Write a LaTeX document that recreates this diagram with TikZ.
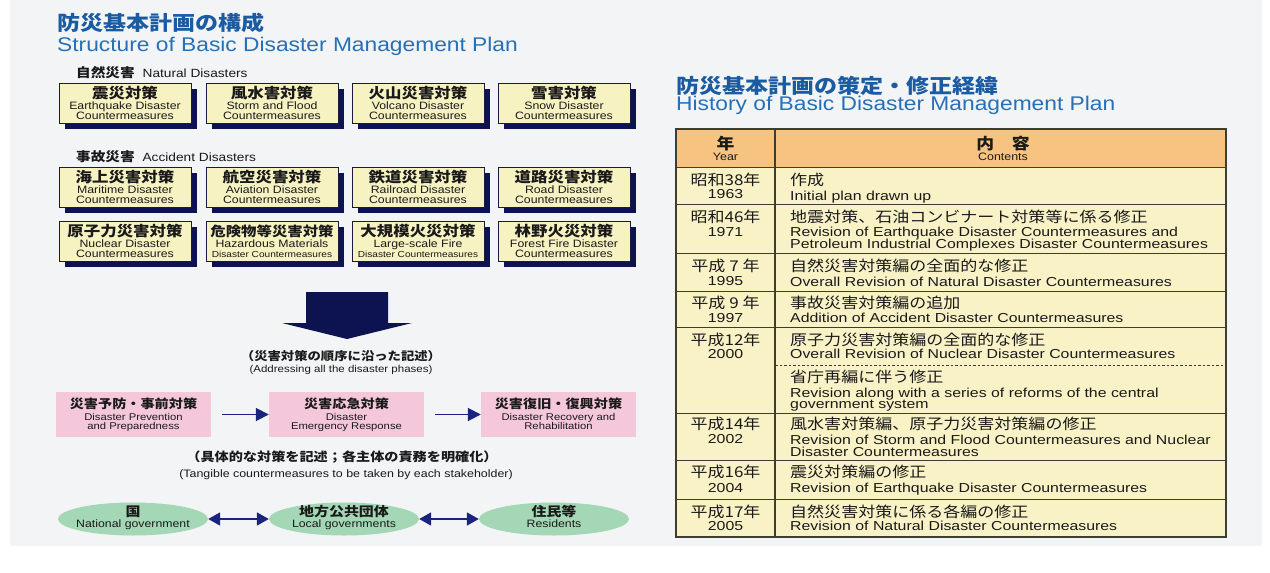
\documentclass[tikz,border=0pt]{standalone}
\usepackage{fontspec}
\usetikzlibrary{arrows.meta,shapes.geometric}
\newfontfamily\en[FakeStretch=1.15]{Liberation Sans}
\newfontfamily\ent[FakeStretch=1.22]{Liberation Sans}
\newfontfamily\jp[FakeStretch=1.15]{Noto Sans CJK JP}
\definecolor{tjp}{HTML}{1A5BA2}
\definecolor{ten}{HTML}{2670B8}
\definecolor{navy}{HTML}{0C1350}
\definecolor{boxfill}{HTML}{F7F2C2}
\definecolor{boxline}{HTML}{1A1A3C}
\definecolor{pinkfill}{HTML}{F4C8DA}
\definecolor{greenfill}{HTML}{A4D7B5}
\definecolor{arrowblue}{HTML}{1A237E}
\definecolor{hdrfill}{HTML}{F6C480}
\definecolor{rowfill}{HTML}{F8F2C6}
\definecolor{tabline}{HTML}{3E3E30}
\definecolor{txt}{HTML}{1A1A1A}
\definecolor{panel}{HTML}{F3F4F6}
\tikzset{
  disbox/.style={draw=boxline,line width=1.2pt,fill=boxfill,minimum width=132pt,minimum height=40pt,inner sep=0pt,anchor=north west},
  jbox/.style={font=\jp\bfseries\fontsize{14.3}{16}\selectfont,inner sep=0pt,anchor=base,text=txt},
  jboxs/.style={font=\jp\bfseries\fontsize{13.4}{16}\selectfont,inner sep=0pt,anchor=base,text=txt},
  ebox/.style={font=\en\fontsize{10.7}{12}\selectfont,inner sep=0pt,anchor=base,text=txt},
  eboxs/.style={font=\en\fontsize{8.8}{10}\selectfont,inner sep=0pt,anchor=base,text=txt},
  pinkbox/.style={fill=pinkfill,minimum width=155pt,minimum height=45pt,inner sep=0pt},
  pj/.style={font=\jp\bfseries\fontsize{12.3}{14}\selectfont,inner sep=0pt,anchor=base,text=txt},
  pe/.style={font=\en\fontsize{9.8}{11}\selectfont,inner sep=0pt,anchor=base,text=txt},
  ell/.style={ellipse,fill=greenfill,minimum width=150pt,minimum height=33pt,inner sep=0pt},
  gj/.style={font=\jp\bfseries\fontsize{13}{15}\selectfont,inner sep=0pt,anchor=base,text=txt},
  ge/.style={font=\en\fontsize{10.7}{12}\selectfont,inner sep=0pt,anchor=base,text=txt},
  flowarrow/.style={draw=arrowblue,line width=1.8pt,-{Triangle[length=13pt,width=13pt]},shorten <=11pt},
  dblarrow/.style={draw=arrowblue,line width=1.8pt,{Triangle[length=12pt,width=13pt]}-{Triangle[length=12pt,width=13pt]}},
  capj/.style={font=\jp\bfseries\fontsize{11.6}{13}\selectfont,inner sep=0pt,anchor=base,text=txt},
  cape/.style={font=\en\fontsize{10}{12}\selectfont,inner sep=0pt,anchor=base,text=txt},
  jt/.style={font=\jp\fontsize{14.8}{16}\selectfont,inner sep=0pt,text=txt},
  et/.style={font=\ent\fontsize{13}{15}\selectfont,inner sep=0pt,text=txt},
  hj/.style={font=\jp\bfseries\fontsize{15.5}{17}\selectfont,inner sep=0pt,anchor=base,text=txt},
  he/.style={font=\en\fontsize{10.8}{12}\selectfont,inner sep=0pt,anchor=base,text=txt},
  tline/.style={draw=tabline,line width=1.3pt},
  titj/.style={font=\jp\bfseries\fontsize{20}{22}\selectfont,inner sep=0pt,anchor=base west,text=tjp},
  tite/.style={font=\en\fontsize{19.8}{22}\selectfont,inner sep=0pt,anchor=base west,text=ten}
}
\begin{document}
\begin{tikzpicture}[x=1pt,y=-1pt]
\useasboundingbox (0,0) rectangle (1270,573);
\fill[white] (0,0) rectangle (1270,573);
\fill[panel] (10,0) rectangle (1262,546);

% titles
\node[titj] (t1j) at (57,30) {防災基本計画の構成};
\node[tite] (t1e) at (57,51) {Structure of Basic Disaster Management Plan};
\node[titj] (t2j) at (676,93) {防災基本計画の策定・修正経緯};
\node[tite] (t2e) at (676,110) {History of Basic Disaster Management Plan};

% group labels
\node[anchor=base west,inner sep=0pt,text=txt] (natlab) at (76,77)
  {{\jp\bfseries\fontsize{12.7}{14}\selectfont 自然災害}\hspace{8pt}{\en\fontsize{11.9}{14}\selectfont Natural Disasters}};
\node[anchor=base west,inner sep=0pt,text=txt] (acclab) at (76,161)
  {{\jp\bfseries\fontsize{12.7}{14}\selectfont 事故災害}\hspace{8pt}{\en\fontsize{11.9}{14}\selectfont Accident Disasters}};

% disaster boxes
\foreach \px/\py/\tj/\ta/\tb/\nm/\sj/\se in {
  59/83/震災対策/Earthquake Disaster/Countermeasures/eq/jbox/ebox,
  206/83/風水害対策/Storm and Flood/Countermeasures/sf/jbox/ebox,
  352/83/火山災害対策/Volcano Disaster/Countermeasures/vo/jbox/ebox,
  498/83/雪害対策/Snow Disaster/Countermeasures/sn/jbox/ebox,
  59/167/海上災害対策/Maritime Disaster/Countermeasures/ma/jbox/ebox,
  206/167/航空災害対策/Aviation Disaster/Countermeasures/av/jbox/ebox,
  352/167/鉄道災害対策/Railroad Disaster/Countermeasures/ra/jbox/ebox,
  498/167/道路災害対策/Road Disaster/Countermeasures/ro/jbox/ebox,
  59/221/原子力災害対策/Nuclear Disaster/Countermeasures/nu/jbox/ebox,
  206/221/危険物等災害対策/Hazardous Materials/Disaster Countermeasures/hz/jboxs/eboxs,
  352/221/大規模火災対策/Large-scale Fire/Disaster Countermeasures/lf/jbox/eboxs,
  498/221/林野火災対策/Forest Fire Disaster/Countermeasures/ff/jbox/ebox}
{
  \fill[navy] (\px+6,\py+6) rectangle ++(132,40);
  \node[disbox] (\nm) at (\px,\py) {};
  \node[\sj] (\nm-j) at (\px+66,\py+15.6) {\tj};
  \node[ebox] (\nm-a) at (\px+66,\py+26.4) {\ta};
  \node[\se] (\nm-b) at (\px+66,\py+36.8) {\tb};
}

% big arrow
\fill[navy] (306,292) -- (388,292) -- (388,323) -- (412,323) -- (347,339) -- (282,323) -- (306,323) -- cycle;

\node[capj] (cap1j) at (341,360.5) {（災害対策の順序に沿った記述）};
\node[cape] (cap1e) at (341,372.5) {(Addressing all the disaster phases)};

% phases
\node[pinkbox] (p1) at (133.5,414.5) {};
\node[pinkbox] (p2) at (346.5,414.5) {};
\node[pinkbox] (p3) at (558.5,414.5) {};
\node[pj] (p1j) at (133.5,408) {災害予防・事前対策};
\node[pe] (p1a) at (133.5,420.7) {Disaster Prevention};
\node[pe] (p1b) at (133.5,429) {and Preparedness};
\node[pj] (p2j) at (346.5,408) {災害応急対策};
\node[pe] (p2a) at (346.5,420.7) {Disaster};
\node[pe] (p2b) at (346.5,429) {Emergency Response};
\node[pj] (p3j) at (558.5,408) {災害復旧・復興対策};
\node[pe] (p3a) at (558.5,420.7) {Disaster Recovery and};
\node[pe] (p3b) at (558.5,429) {Rehabilitation};
\draw[flowarrow] (p1.east) -- (p2.west);
\draw[flowarrow] (p2.east) -- (p3.west);

\node[font=\jp\bfseries\fontsize{12.3}{14}\selectfont,inner sep=0pt,anchor=base,text=txt] (cap2j) at (342,461.5) {（具体的な対策を記述；各主体の責務を明確化）};
\node[font=\en\fontsize{10.8}{12}\selectfont,inner sep=0pt,anchor=base,text=txt] (cap2e) at (346,477) {(Tangible countermeasures to be taken by each stakeholder)};

% stakeholders
\node[ell] (g1) at (133,519) {};
\node[ell] (g2) at (344,519) {};
\node[ell] (g3) at (554,519) {};
\node[gj] (g1j) at (133,516.6) {国};
\node[ge] (g1e) at (133,527) {National government};
\node[gj] (g2j) at (344,516.6) {地方公共団体};
\node[ge] (g2e) at (344,527) {Local governments};
\node[gj] (g3j) at (554,516.6) {住民等};
\node[ge] (g3e) at (554,527) {Residents};
\draw[dblarrow] (g1.east) -- (g2.west);
\draw[dblarrow] (g2.east) -- (g3.west);

% table
\fill[hdrfill] (676,129.3) rectangle (1226,167.3);
\fill[rowfill] (676,167.3) rectangle (1226,536.7);
\foreach \yy in {167.3,204.3,253.3,291.7,327.7,413.3,460.7,499.3}
  \draw[tline] (676,\yy) -- (1226,\yy);
\draw[draw=tabline,line width=0.8pt,dash pattern=on 2.5pt off 2pt] (775,365) -- (1226,365);
\draw[tline] (775,129.3) -- (775,536.7);
\draw[tabline,line width=1.8pt] (676,129.3) rectangle (1226,536.7);

\node[hj] (hy) at (725.5,149.2) {年};
\node[he] (hye) at (725.5,160) {Year};
\node[hj] (hc) at (1003,149.2) {内　容};
\node[he] (hce) at (1003,160) {Contents};

\node[jt,anchor=base] (y1j) at (725.5,185.4) {昭和38年};
\node[et,anchor=base] (y1e) at (725.5,198.5) {1963};
\node[jt,anchor=base] (y2j) at (725.5,222.7) {昭和46年};
\node[et,anchor=base] (y2e) at (725.5,236) {1971};
\node[jt,anchor=base] (y3j) at (725.5,271.1) {平成 7 年};
\node[et,anchor=base] (y3e) at (725.5,285) {1995};
\node[jt,anchor=base] (y4j) at (725.5,308.7) {平成 9 年};
\node[et,anchor=base] (y4e) at (725.5,322) {1997};
\node[jt,anchor=base] (y5j) at (725.5,345.4) {平成12年};
\node[et,anchor=base] (y5e) at (725.5,358.5) {2000};
\node[jt,anchor=base] (y6j) at (725.5,429.4) {平成14年};
\node[et,anchor=base] (y6e) at (725.5,443.5) {2002};
\node[jt,anchor=base] (y7j) at (725.5,477.7) {平成16年};
\node[et,anchor=base] (y7e) at (725.5,492) {2004};
\node[jt,anchor=base] (y8j) at (725.5,517.5) {平成17年};
\node[et,anchor=base] (y8e) at (725.5,530.5) {2005};

\node[jt,anchor=base west] (c1j) at (790,185.4) {作成};
\node[et,anchor=base west] (c1e) at (790,200.5) {Initial plan drawn up};
\node[jt,anchor=base west] (c2j) at (790,222.7) {地震対策、石油コンビナート対策等に係る修正};
\node[et,anchor=base west] (c2e) at (790,236.4) {Revision of Earthquake Disaster Countermeasures and};
\node[et,anchor=base west] (c2f) at (790,248) {Petroleum Industrial Complexes Disaster Countermeasures};
\node[jt,anchor=base west] (c3j) at (790,271.1) {自然災害対策編の全面的な修正};
\node[et,anchor=base west] (c3e) at (790,286.4) {Overall Revision of Natural Disaster Countermeasures};
\node[jt,anchor=base west] (c4j) at (790,308.7) {事故災害対策編の追加};
\node[et,anchor=base west] (c4e) at (790,322.4) {Addition of Accident Disaster Countermeasures};
\node[jt,anchor=base west] (c5j) at (790,345.4) {原子力災害対策編の全面的な修正};
\node[et,anchor=base west] (c5e) at (790,358.3) {Overall Revision of Nuclear Disaster Countermeasures};
\node[jt,anchor=base west] (c6j) at (790,382.7) {省庁再編に伴う修正};
\node[et,anchor=base west] (c6e) at (790,397.4) {Revision along with a series of reforms of the central};
\node[et,anchor=base west] (c6f) at (790,408.7) {government system};
\node[jt,anchor=base west] (c7j) at (790,429.4) {風水害対策編、原子力災害対策編の修正};
\node[et,anchor=base west] (c7e) at (790,444) {Revision of Storm and Flood Countermeasures and Nuclear};
\node[et,anchor=base west] (c7f) at (790,456.2) {Disaster Countermeasures};
\node[jt,anchor=base west] (c8j) at (790,477.7) {震災対策編の修正};
\node[et,anchor=base west] (c8e) at (790,492.8) {Revision of Earthquake Disaster Countermeasures};
\node[jt,anchor=base west] (c9j) at (790,517.5) {自然災害対策に係る各編の修正};
\node[et,anchor=base west] (c9e) at (790,530.7) {Revision of Natural Disaster Countermeasures};
\end{tikzpicture}
\end{document}
